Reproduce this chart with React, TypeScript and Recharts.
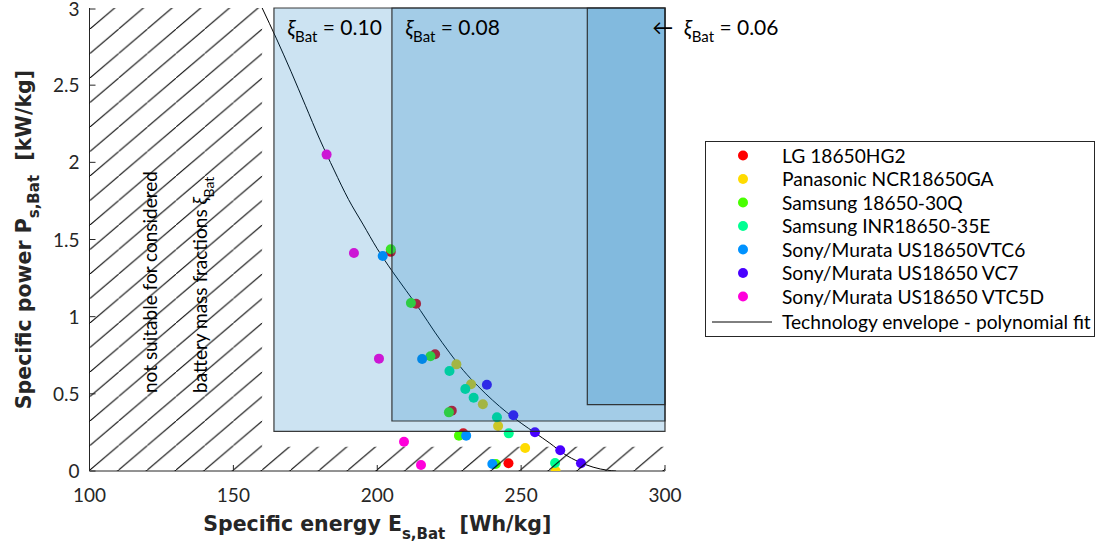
import React from "react";
import {
  ComposedChart,
  Scatter,
  Line,
  XAxis,
  YAxis,
  ReferenceArea,
  Legend,
} from "recharts";

const FONT = "Lato, 'DejaVu Sans', sans-serif";
const TITLE_FONT = "'DejaVu Sans', sans-serif";
const INK = "#262626";

const xTicks = [100, 150, 200, 250, 300];
const yTicks = [0, 0.5, 1, 1.5, 2, 2.5, 3];

// specific energy [Wh/kg] and specific power [kW/kg] per cell type
const hg2E = [204.7, 213.5, 220.1, 225.9, 229.9, 245.6];
const hg2P = [1.42, 1.084, 0.756, 0.391, 0.244, 0.05];
const ncrE = [227.5, 232.6, 236.7, 242.0, 251.4, 262.0];
const ncrP = [0.691, 0.562, 0.432, 0.292, 0.149, 0.0];
const q30E = [204.7, 211.7, 218.5, 224.9, 228.4, 241.2];
const q30P = [1.437, 1.089, 0.743, 0.38, 0.229, 0.045];
const e35E = [225.1, 230.6, 233.5, 241.6, 245.7, 261.8];
const e35P = [0.648, 0.531, 0.475, 0.348, 0.244, 0.052];
const vtc6E = [201.9, 215.6, 230.9, 240.0];
const vtc6P = [1.393, 0.726, 0.229, 0.045];
const vc7E = [238.1, 247.3, 254.8, 263.6, 270.8];
const vc7P = [0.559, 0.361, 0.251, 0.134, 0.05];
const vtc5dE = [182.4, 191.9, 200.6, 209.3, 215.2];
const vtc5dP = [2.05, 1.413, 0.728, 0.19, 0.039];

// technology envelope (polynomial fit)
const envE = [160, 165, 170, 175, 180, 185, 190, 195, 200, 205, 210, 215, 220, 225, 230, 235, 240, 245, 250, 255, 260, 265, 270, 275, 280, 283];
const envP = [3.0, 2.8, 2.59, 2.37, 2.15, 1.95, 1.76, 1.6, 1.44, 1.3, 1.17, 1.04, 0.9, 0.77, 0.65, 0.55, 0.46, 0.38, 0.31, 0.245, 0.18, 0.11, 0.06, 0.025, 0.005, 0];

// minimum energy / power per battery mass fraction
const boxXi = ["0.10", "0.08", "0.06"];
const boxE = [164.1, 205.1, 273.0];
const boxP = [0.257, 0.324, 0.43];

// region not reachable for the considered mass fractions
const hatchE = 160;
const hatchP = 0.157;

const zip = (e: number[], p: number[]) => e.map((x, i) => ({ x, y: p[i] }));

const series = [
  { name: "LG 18650HG2", color: "#FF0000", data: zip(hg2E, hg2P) },
  { name: "Panasonic NCR18650GA", color: "#FFDB00", data: zip(ncrE, ncrP) },
  { name: "Samsung 18650-30Q", color: "#49FF00", data: zip(q30E, q30P) },
  { name: "Samsung INR18650-35E", color: "#00FF92", data: zip(e35E, e35P) },
  { name: "Sony/Murata US18650VTC6", color: "#0092FF", data: zip(vtc6E, vtc6P) },
  { name: "Sony/Murata US18650 VC7", color: "#4900FF", data: zip(vc7E, vc7P) },
  { name: "Sony/Murata US18650 VTC5D", color: "#FF00DB", data: zip(vtc5dE, vtc5dP) },
];

const envelope = zip(envE, envP);

const BottomTick = ({ x, y, payload }: any) => (
  <g>
    <line x1={x} x2={x} y1={y} y2={y - 6} stroke={INK} />
    <text x={x} y={y + 31} textAnchor="middle" fontSize={19} fill={INK} fontFamily={FONT}>
      {payload.value}
    </text>
  </g>
);

const LeftTick = ({ x, y, payload }: any) => (
  <g>
    <line x1={x} x2={x + 6} y1={y} y2={y} stroke={INK} />
    <text x={x - 10} y={y + 7} textAnchor="end" fontSize={19} fill={INK} fontFamily={FONT}>
      {payload.value}
    </text>
  </g>
);

const TopTick = ({ x, y }: any) => <line x1={x} x2={x} y1={y} y2={y + 6} stroke={INK} />;
const RightTick = ({ x, y }: any) => <line x1={x} x2={x - 6} y1={y} y2={y} stroke={INK} />;

const XTitle = ({ viewBox }: any) => (
  <text
    x={viewBox.x + viewBox.width / 2}
    y={531}
    textAnchor="middle"
    fontSize={20.5}
    fontWeight="bold"
    fill={INK}
    fontFamily={TITLE_FONT}
  >
    Specific energy E
    <tspan dy={8} fontSize={15}>s,Bat</tspan>
    <tspan dy={-8}>{"\u00a0\u00a0[Wh/kg]"}</tspan>
  </text>
);

const YTitle = ({ viewBox }: any) => (
  <text
    transform={`translate(31, ${viewBox.y + viewBox.height / 2}) rotate(-90)`}
    textAnchor="middle"
    fontSize={20.5}
    fontWeight="bold"
    fill={INK}
    fontFamily={TITLE_FONT}
  >
    Specific power P
    <tspan dy={8} fontSize={15}>s,Bat</tspan>
    <tspan dy={-8}>{"\u00a0\u00a0[kW/kg]"}</tspan>
  </text>
);

const XiLabel = ({ viewBox, value, dx, arrow }: any) => (
  <text x={viewBox.x + dx} y={35} fontSize={21} fill="#000" fontFamily={FONT}>
    {arrow ? "\u2190\u00a0\u00a0" : ""}
    <tspan fontStyle="italic">ξ</tspan>
    <tspan dy={7} fontSize={15}>Bat</tspan>
    <tspan dy={-7}>{` = ${value}`}</tspan>
  </text>
);

const HatchLabel = ({ viewBox }: any) => (
  <g fontFamily={FONT} fontSize={19} fill="#000">
    <text transform={`translate(${viewBox.x + 67}, 393) rotate(-90)`}>
      not suitable for considered
    </text>
    <text transform={`translate(${viewBox.x + 117}, 393) rotate(-90)`}>
      battery mass fractions <tspan fontStyle="italic">ξ</tspan>
      <tspan dy={7} fontSize={14}>Bat</tspan>
    </text>
  </g>
);

const LegendBox = () => (
  <svg width={390} height={196} style={{ display: "block" }}>
    <rect x={0.5} y={0.5} width={389} height={195} fill="#fff" stroke={INK} />
    {series.map((s, i) => (
      <g key={s.name}>
        <circle cx={38} cy={14.5 + i * 23.5} r={5} fill={s.color} />
        <text x={77} y={14.5 + i * 23.5 + 7} fontSize={19.2} fill="#000" fontFamily={FONT}>
          {s.name}
        </text>
      </g>
    ))}
    <line x1={7} x2={67} y1={181} y2={181} stroke="#000" />
    <text x={77} y={188} fontSize={19.2} fill="#000" fontFamily={FONT}>
      Technology envelope - polynomial fit
    </text>
  </svg>
);

export default function App() {
  return (
    <div style={{ position: "absolute", left: 0, top: 0 }}>
      <ComposedChart
        width={1100}
        height={552}
        margin={{ top: 8, right: 435, bottom: 0, left: 0 }}
      >
        <defs>
          <pattern
            id="hatch"
            patternUnits="userSpaceOnUse"
            x={90}
            y={445.5}
            width={28.7}
            height={24.5}
          >
            <line x1={-1} y1={24.5 + 24.5 / 28.7} x2={29.7} y2={-24.5 / 28.7} stroke="#000" strokeWidth={1} />
          </pattern>
        </defs>
        <XAxis
          type="number"
          dataKey="x"
          domain={[100, 300]}
          ticks={xTicks}
          height={81}
          tickSize={0}
          tickMargin={0}
          tickLine={false}
          axisLine={{ stroke: INK }}
          tick={BottomTick}
          allowDataOverflow
          label={{ content: XTitle }}
        />
        <XAxis
          xAxisId="top"
          orientation="top"
          type="number"
          domain={[100, 300]}
          ticks={xTicks}
          height={0}
          tickSize={0}
          tickMargin={0}
          tickLine={false}
          axisLine={{ stroke: INK }}
          tick={TopTick}
        />
        <YAxis
          type="number"
          dataKey="y"
          domain={[0, 3]}
          ticks={yTicks}
          width={89.5}
          tickSize={0}
          tickMargin={0}
          tickLine={false}
          axisLine={{ stroke: INK }}
          tick={LeftTick}
          allowDataOverflow
          label={{ content: YTitle }}
        />
        <YAxis
          yAxisId="right"
          orientation="right"
          type="number"
          domain={[0, 3]}
          ticks={yTicks}
          width={0}
          tickSize={0}
          tickMargin={0}
          tickLine={false}
          axisLine={{ stroke: INK }}
          tick={RightTick}
        />
        <Line
          data={envelope}
          dataKey="y"
          type="monotone"
          stroke="#000"
          strokeWidth={1}
          dot={false}
          isAnimationActive={false}
          legendType="none"
        />
        {series.map((s) => (
          <Scatter
            key={s.name}
            name={s.name}
            data={s.data}
            fill={s.color}
            isAnimationActive={false}
            shape={(p: any) => <circle cx={p.cx} cy={p.cy} r={5} fill={s.color} />}
          />
        ))}
        {boxE.map((e, i) => (
          <ReferenceArea
            key={boxXi[i]}
            x1={e}
            x2={300}
            y1={boxP[i]}
            y2={3}
            fill="#0072BD"
            fillOpacity={0.2}
            stroke={INK}
            strokeOpacity={0.9}
            strokeWidth={1.2}
            zIndex={650}
            label={{
              content: (p: any) => (
                <XiLabel
                  viewBox={p.viewBox}
                  value={boxXi[i]}
                  dx={i === 2 ? 65 : 13.5}
                  arrow={i === 2}
                />
              ),
            }}
          />
        ))}
        <ReferenceArea
          x1={100}
          x2={hatchE}
          y1={0}
          y2={3}
          fill="url(#hatch)"
          fillOpacity={1}
          stroke="none"
          zIndex={660}
          label={{ content: HatchLabel }}
        />
        <ReferenceArea
          x1={hatchE}
          x2={300}
          y1={0}
          y2={hatchP}
          fill="url(#hatch)"
          fillOpacity={1}
          stroke="none"
          zIndex={660}
        />
        <Legend
          layout="horizontal"
          verticalAlign="middle"
          align="center"
          wrapperStyle={{ left: 705, top: 141, width: 390 }}
          content={LegendBox}
        />
      </ComposedChart>
    </div>
  );
}
